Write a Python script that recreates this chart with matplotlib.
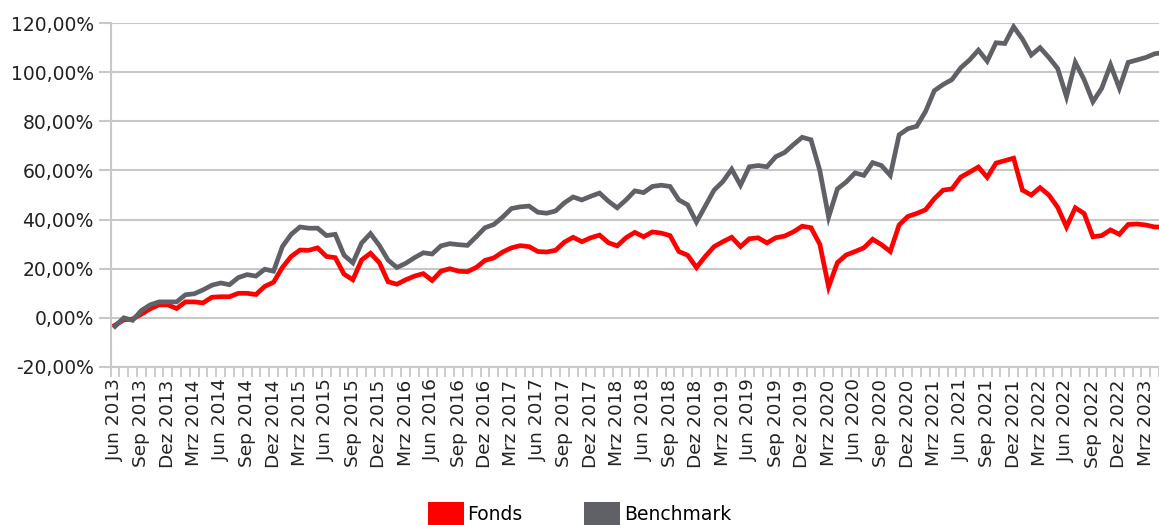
import numpy as np
import pandas as pd
import matplotlib
matplotlib.use("Agg")
import matplotlib.pyplot as plt
from matplotlib.patches import Patch

# monatliche Werte in %, Jun 2013 bis Mai 2023
fonds = [
    -3, -0.8, -0.5, 1.5, 3.7, 5.3, 5.3, 3.8, 6.5, 6.5,
    6.1, 8.4, 8.6, 8.6, 10, 10, 9.5, 12.8, 14.5, 20.5,
    25, 27.6, 27.5, 28.5, 25, 24.5, 17.8, 15.5, 23.6, 26.3,
    22.5, 14.7, 13.7, 15.5, 17, 18, 15.2, 19, 20, 19,
    18.8, 20.5, 23.4, 24.4, 26.8, 28.5, 29.4, 29, 27, 26.8,
    27.5, 30.8, 32.8, 31, 32.6, 33.7, 30.6, 29.3, 32.6, 34.8,
    33, 35, 34.5, 33.5, 27, 25.5, 20.5, 25, 29, 31,
    32.8, 29, 32.2, 32.6, 30.5, 32.6, 33.3, 35, 37.3, 36.7,
    30, 12.6, 22.5, 25.6, 27, 28.5, 32, 29.8, 27, 37.8,
    41.3, 42.5, 44, 48.5, 52, 52.5, 57.3, 59.3, 61.4, 57.2,
    63, 64, 65, 52, 50, 53, 50, 45, 37, 44.8,
    42.5, 33, 33.5, 35.8, 34, 38, 38.2, 37.8, 37, 37,
]
benchmark = [
    -3.5, 0, -1, 3, 5.3, 6.5, 6.5, 6.5, 9.4, 9.8,
    11.4, 13.3, 14.2, 13.5, 16.4, 17.6, 17, 19.8, 19, 29,
    34, 37, 36.5, 36.5, 33.5, 34, 25.5, 22.4, 30.5, 34.3,
    29.5, 23.5, 20.5, 22.2, 24.5, 26.5, 26, 29.3, 30.2, 29.8,
    29.5, 33, 36.7, 38, 41, 44.5, 45.2, 45.5, 43, 42.6,
    43.5, 46.8, 49.2, 48, 49.5, 50.8, 47.5, 44.8, 48, 51.7,
    51, 53.5, 54, 53.5, 48, 46, 39, 45.5, 52, 55.5,
    60.5, 54, 61.5, 62, 61.5, 65.6, 67.3, 70.5, 73.5, 72.5,
    60, 41, 52.5, 55.3, 59, 58, 63.2, 62, 58, 74.5,
    77, 78, 84, 92.5, 95, 97, 101.8, 105, 109, 104.5,
    112, 111.7, 118.5, 113.5, 107, 110, 106, 101.5, 90, 104,
    97, 88, 93.5, 103, 93.5, 104, 105, 106, 107.5, 108,
]
monate = ["Jan", "Feb", "Mrz", "Apr", "Mai", "Jun",
          "Jul", "Aug", "Sep", "Okt", "Nov", "Dez"]
datum = pd.date_range("2013-06-01", periods=len(fonds), freq="MS")
y_ticks = [-20, 0, 20, 40, 60, 80, 100, 120]

plt.rcParams["font.family"] = ["DejaVu Sans"]

fig = plt.figure(figsize=(11.59, 5.25), dpi=100)
ax = fig.add_axes([0.0954, 0.301, 0.9046, 0.655])

x = np.arange(len(fonds))
ax.plot(x, fonds, color="#ff0000", lw=3.4, solid_joinstyle="miter", zorder=3)
ax.plot(x, benchmark, color="#606166", lw=3.4, solid_joinstyle="miter", zorder=4)

ax.set_ylim(-20, 120)
ax.set_xlim(-0.5, 118.23)
ax.set_yticks(y_ticks)
ax.set_yticklabels([f"{v:.2f}%".replace(".", ",") for v in y_ticks])
ax.yaxis.grid(True, color="#c8c8c8", lw=1.5)
ax.set_axisbelow(True)

# Monatsgrenzen als Ticks, Beschriftung jedes Quartal
ax.set_xticks(x - 0.5)
ax.set_xticklabels([])
lab_pos = [i for i in x if i % 3 == 0]
ax.set_xticks(lab_pos, minor=True)
ax.set_xticklabels([f"{monate[datum[i].month - 1]} {datum[i].year}" for i in lab_pos],
                   minor=True, rotation=90)
ax.tick_params(axis="x", which="major", length=7, width=1.3, color="#c8c8c8")
ax.tick_params(axis="x", which="minor", length=0, pad=9, labelsize=13.3, labelcolor="#222222")
ax.tick_params(axis="y", length=9, width=1.5, color="#c8c8c8", pad=3,
               labelsize=13.5, labelcolor="#222222")

for s in ["top", "right"]:
    ax.spines[s].set_visible(False)
for s in ["left", "bottom"]:
    ax.spines[s].set_color("#c8c8c8")
    ax.spines[s].set_linewidth(1.5)

handles = [Patch(facecolor="#ff0000", edgecolor="none", label="Fonds"),
           Patch(facecolor="#606166", edgecolor="none", label="Benchmark")]
fig.legend(handles=handles, loc="center", bbox_to_anchor=(0.5, 0.022), ncol=2,
           frameon=False, fontsize=13.5, handlelength=1.9, handleheight=1.5,
           handletextpad=0.2, columnspacing=3.3, borderaxespad=0)

fig.savefig("out.png", dpi=100)
